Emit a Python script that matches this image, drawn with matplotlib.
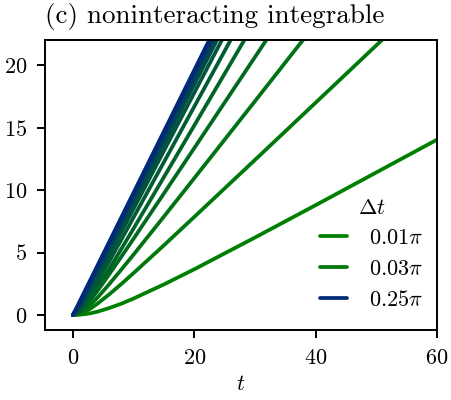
import numpy as np
import matplotlib
matplotlib.use("Agg")
import matplotlib.pyplot as plt
from matplotlib.colors import to_rgb

plt.rcParams['font.family'] = 'serif'
plt.rcParams['font.serif'] = ['cmr10']
plt.rcParams['mathtext.fontset'] = 'cm'
plt.rcParams['axes.formatter.use_mathtext'] = True

# tiempos comunes
t = [0, 1, 2, 3, 4, 6, 8, 10, 15, 20, 30, 40, 60]

# valores, de dt = 0.01pi (abajo) a 0.25pi (arriba)
dt_labels = [r'$0.01\pi$', r'$0.03\pi$', r'$0.05\pi$', r'$0.07\pi$', r'$0.09\pi$',
             r'$0.11\pi$', r'$0.13\pi$', r'$0.15\pi$', r'$0.17\pi$', r'$0.19\pi$',
             r'$0.21\pi$', r'$0.23\pi$', r'$0.25\pi$']

y01 = [0, 0.02, 0.07, 0.15, 0.26, 0.56, 0.91, 1.32, 2.45, 3.66, 6.2, 8.79, 14.03]
y03 = [0, 0.07, 0.26, 0.55, 0.89, 1.66, 2.49, 3.36, 5.58, 7.85, 12.41, 16.99, 26.17]
y05 = [0, 0.12, 0.43, 0.87, 1.37, 2.48, 3.65, 4.84, 7.88, 10.95, 17.11, 23.30, 35.68]
y07 = [0, 0.19, 0.65, 1.25, 1.90, 3.27, 4.68, 6.11, 9.73, 13.36, 20.64, 27.93, 42.52]
y09 = [0, 0.21, 0.74, 1.41, 2.14, 3.70, 5.31, 6.93, 11.04, 15.17, 23.45, 31.73, 48.32]
y11 = [0, 0.30, 0.96, 1.75, 2.58, 4.30, 6.05, 7.82, 12.24, 16.68, 25.57, 34.46, 52.25]
y13 = [0, 0.41, 1.20, 2.07, 2.97, 4.80, 6.65, 8.50, 13.14, 17.78, 27.07, 36.37, 54.97]
y15 = [0, 0.54, 1.41, 2.34, 3.27, 5.16, 7.05, 8.95, 13.69, 18.44, 27.94, 37.43, 56.43]
y17 = [0, 0.65, 1.58, 2.53, 3.48, 5.39, 7.31, 9.23, 14.03, 18.82, 28.42, 38.02, 57.22]
y19 = [0, 0.72, 1.67, 2.63, 3.60, 5.54, 7.48, 9.41, 14.26, 19.11, 28.81, 38.51, 57.91]
y21 = [0, 0.80, 1.76, 2.74, 3.71, 5.66, 7.61, 9.56, 14.43, 19.31, 29.06, 38.81, 58.31]
y23 = [0, 0.88, 1.86, 2.84, 3.81, 5.77, 7.72, 9.68, 14.57, 19.46, 29.24, 39.02, 58.58]
y25 = [0, 0.98, 1.96, 2.94, 3.92, 5.88, 7.84, 9.80, 14.70, 19.60, 29.40, 39.20, 58.80]

curvas = [y01, y03, y05, y07, y09, y11, y13, y15, y17, y19, y21, y23, y25]
legend_idx = [0, 1, 12]

# colores de verde a azul oscuro
c0 = np.array(to_rgb('#008000'))
c1 = np.array(to_rgb('#002a78'))

fig = plt.figure(figsize=(4.52, 4.0), dpi=100)
ax = fig.add_axes([0.0996, 0.175, 0.8674, 0.725])

n = len(curvas)
for i, y in enumerate(curvas):
    f = i / (n - 1)
    cor = (1 - f) * c0 + f * c1
    lab = dt_labels[i] if i in legend_idx else None
    ax.plot(t, y, color=cor, lw=2.7, label=lab, solid_capstyle='round')

ax.set_xlim(-4.6, 60)
ax.set_ylim(-1.2, 22)
ax.set_xticks([0, 20, 40, 60])
ax.set_yticks([0, 5, 10, 15, 20])
ax.tick_params(labelsize=16, length=6, width=1.4, pad=7)
for s in ax.spines.values():
    s.set_linewidth(1.4)
ax.set_xlabel(r'$t$', fontsize=16, labelpad=5)
ax.set_title('(c) noninteracting integrable', loc='left', fontsize=19.5, pad=12)

leg = ax.legend(title=r'$\Delta t$', loc='lower right', frameon=False,
                fontsize=16, title_fontsize=16, handlelength=1.2,
                handletextpad=1.0, labelspacing=0.5,
                bbox_to_anchor=(1.015, 0.0))

fig.savefig('out.png', dpi=100)
